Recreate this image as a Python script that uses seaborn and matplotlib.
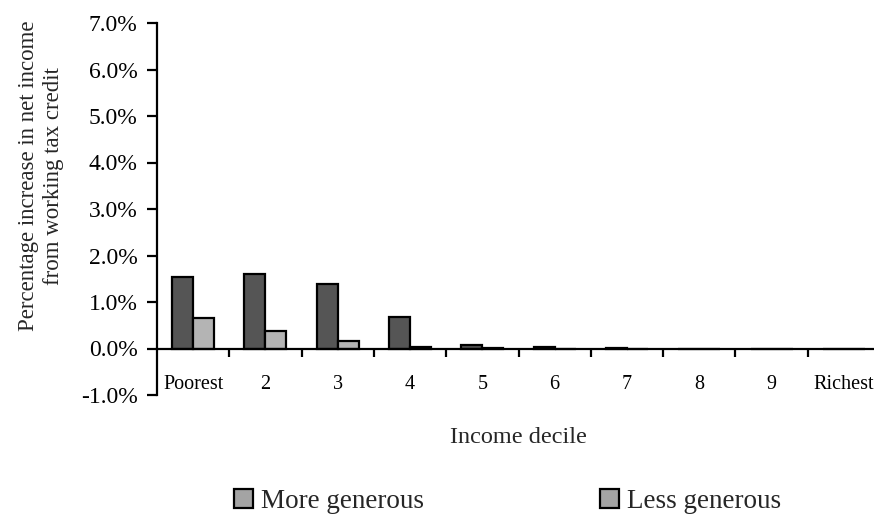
import matplotlib
matplotlib.use("Agg")
import matplotlib.pyplot as plt
import matplotlib.patches as mpatches
from matplotlib.ticker import FixedLocator, FuncFormatter
import seaborn as sns
import pandas as pd
import numpy as np

deciles = ["Poorest", "2", "3", "4", "5", "6", "7", "8", "9", "Richest"]
more_generous = [1.53, 1.61, 1.38, 0.67, 0.08, 0.04, 0.01, 0.0, 0.0, 0.0]
less_generous = [0.66, 0.37, 0.17, 0.03, 0.01, 0.0, 0.0, 0.0, 0.0, 0.0]
series_names = ["More generous", "Less generous"]
bar_colors = ["#555555", "#b4b4b4"]
y_ticks = [-1, 0, 1, 2, 3, 4, 5, 6, 7]

df = pd.DataFrame({
    "decile": deciles * 2,
    "value": more_generous + less_generous,
    "series": [series_names[0]] * len(deciles) + [series_names[1]] * len(deciles),
})

sns.set_theme(style="white")
plt.rcParams["font.family"] = ["Liberation Serif", "DejaVu Serif"]

fig = plt.figure(figsize=(8.74, 5.19), dpi=100)
fig.patch.set_facecolor("white")
ax = fig.add_axes([157 / 874, 1 - 395 / 519, 723 / 874, 372 / 519])

sns.barplot(data=df, x="decile", y="value", hue="series", order=deciles,
            hue_order=series_names, palette=bar_colors, width=0.58,
            edgecolor="black", linewidth=1.6, saturation=1, ax=ax, legend=False)

ax.set_xlim(-0.5, 9.5)
ax.set_ylim(-1, 7)
ax.yaxis.set_major_locator(FixedLocator(y_ticks))
ax.yaxis.set_major_formatter(FuncFormatter(lambda v, p: f"{v:.1f}%"))

for s in ["top", "right"]:
    ax.spines[s].set_visible(False)
ax.spines["left"].set_linewidth(1.6)
ax.spines["left"].set_color("black")
ax.spines["bottom"].set_position(("data", 0))
ax.spines["bottom"].set_linewidth(1.6)
ax.spines["bottom"].set_color("black")

ax.tick_params(axis="y", which="major", direction="out", length=7, width=1.6,
               labelsize=17, pad=7, left=True, colors="black")
ax.tick_params(axis="x", which="major", length=0, labelsize=14.5, pad=19,
               colors="black")
ax.xaxis.set_minor_locator(FixedLocator(np.arange(0.5, 9.5, 1.0)))
ax.tick_params(axis="x", which="minor", direction="out", length=6, width=1.6,
               bottom=True, color="black")

ax.set_xlabel("Income decile", fontsize=17.5)
ax.xaxis.set_label_coords(0.5, (395 - 427) / 372)
ax.set_ylabel("Percentage increase in net income\nfrom working tax credit",
              fontsize=16.5, linespacing=1.2)
ax.yaxis.set_label_coords((41 - 157) / 723, (395 - 176) / 372)
ax.yaxis.label.set_verticalalignment("center")
ax.grid(False)

handles = [mpatches.Patch(facecolor="#a4a4a4", edgecolor="black", linewidth=1.6,
                          label=n) for n in series_names]
fig.legend(handles=handles, loc="center", bbox_to_anchor=(0.581, 1 - 501 / 519),
           ncol=2, frameon=False, fontsize=19.5, handlelength=0.7,
           handleheight=0.7, handletextpad=0.3, columnspacing=6.5)

fig.savefig("out.png", dpi=100, facecolor="white")
